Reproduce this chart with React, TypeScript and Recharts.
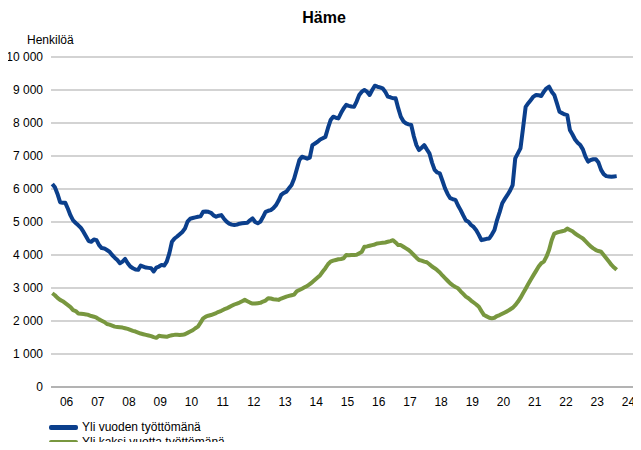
import { LineChart, Line, XAxis, YAxis, CartesianGrid } from 'recharts';

// monthly figures, Jan 2006 -> Feb 2024
const startYear = 2006;

const yliVuoden = [
  6150, 6050, 5850, 5600, 5580, 5580, 5400, 5200, 5050, 4970, 4900, 4820,
  4700, 4560, 4420, 4400, 4470, 4450, 4300, 4210, 4200, 4150, 4100, 4000,
  3920, 3850, 3750, 3800, 3880, 3750, 3650, 3600, 3560, 3550, 3680, 3650,
  3620, 3610, 3600, 3500, 3620, 3650, 3700, 3680, 3800, 4050, 4400, 4500,
  4560, 4630, 4700, 4800, 5010, 5100, 5120, 5140, 5160, 5170, 5310, 5320,
  5310, 5280, 5200, 5160, 5190, 5210, 5100, 5010, 4950, 4920, 4910, 4920,
  4950, 4960, 4970, 4980, 5050, 5110, 5000, 4960, 5010, 5150, 5310, 5340,
  5360, 5420, 5510, 5650, 5820, 5880, 5920, 6020, 6120, 6320, 6600, 6880,
  6980, 6950, 6920, 6950, 7330, 7380, 7430, 7500, 7540, 7580, 7850, 8090,
  8190, 8160, 8140, 8300, 8440, 8550, 8520, 8500, 8490, 8650, 8850, 8950,
  9000, 8950, 8850, 9000, 9130, 9100, 9080, 9050, 8950, 8800, 8780, 8750,
  8750, 8450, 8190, 8050, 7990, 7960, 7940, 7600, 7330, 7180, 7250, 7330,
  7200, 7080, 6800, 6580, 6500, 6470, 6250, 6020, 5850, 5720, 5690, 5670,
  5500, 5360, 5200, 5050, 5010, 4910, 4850, 4750, 4610, 4450, 4470, 4490,
  4500, 4620, 4760, 5060, 5300, 5570, 5700, 5820, 5950, 6120, 6930, 7080,
  7230, 7850, 8490, 8600, 8700, 8800, 8850, 8840, 8820, 8950, 9050, 9100,
  8950, 8850, 8600, 8340, 8300, 8260, 8240, 7790, 7650, 7500, 7400, 7330,
  7200, 6980, 6830, 6880, 6900, 6900, 6800, 6580, 6450, 6390, 6380, 6370,
  6380, 6390,
];

const yliKaksi = [
  2840, 2780, 2700, 2640, 2600, 2540, 2480, 2420, 2330, 2300, 2230, 2220,
  2210, 2200, 2180, 2150, 2130, 2100, 2050, 2010, 1970, 1910, 1890, 1860,
  1830, 1820, 1810, 1800, 1780, 1760, 1730, 1700, 1680, 1650, 1620, 1600,
  1580, 1560, 1540, 1510, 1490, 1550, 1540, 1530, 1520, 1550, 1570, 1580,
  1580, 1575, 1580, 1600, 1640, 1680, 1720, 1780, 1830, 1950, 2080, 2130,
  2160, 2180, 2210, 2240, 2280, 2310, 2350, 2380, 2420, 2460, 2500, 2530,
  2560, 2600, 2640, 2600, 2560, 2530, 2530, 2540, 2550, 2590, 2620, 2690,
  2680, 2660, 2650, 2640, 2680, 2710, 2740, 2760, 2780, 2800, 2900, 2940,
  2980, 3020, 3060, 3120, 3180, 3250, 3320, 3390, 3500, 3600, 3720, 3800,
  3830, 3850, 3870, 3880, 3900, 4000, 3990, 4000, 4000, 4010, 4050, 4100,
  4250, 4260, 4280, 4300, 4320, 4350, 4360, 4370, 4380, 4400, 4420, 4450,
  4380, 4300, 4300, 4250, 4200, 4150, 4080, 4000, 3920, 3850, 3830, 3800,
  3780, 3720, 3650, 3600, 3540, 3470, 3380, 3300, 3220, 3140, 3080, 3030,
  2990, 2900, 2820, 2740, 2690, 2620, 2560, 2500, 2430, 2300, 2180, 2140,
  2100, 2080, 2100, 2150, 2180, 2220, 2260, 2300, 2350, 2400, 2480, 2580,
  2700, 2840, 2980, 3120, 3260, 3390, 3520, 3650, 3750, 3800, 3950, 4150,
  4450, 4650, 4680, 4700, 4720, 4740, 4800, 4760, 4720, 4650, 4600, 4550,
  4500, 4420, 4340, 4260, 4200, 4150, 4120, 4100, 4000, 3900, 3800, 3700,
  3620, 3550,
];

const yearTicks = [
  2006.5, 2007.5, 2008.5, 2009.5, 2010.5, 2011.5, 2012.5, 2013.5, 2014.5, 2015.5,
  2016.5, 2017.5, 2018.5, 2019.5, 2020.5, 2021.5, 2022.5, 2023.5, 2024.5,
];
const valueTicks = [0, 1000, 2000, 3000, 4000, 5000, 6000, 7000, 8000, 9000, 10000];

const BLUE = '#0b3f8c';
const GREEN = '#78973f';
const font = '"Liberation Sans", Arial, sans-serif';

const rows = yliVuoden.map((v, i) => ({
  t: startYear + (i + 0.5) / 12,
  vuosi: v,
  kaksi: yliKaksi[i],
}));

const fmt = (v: number) => (v >= 1000 ? `${Math.floor(v / 1000)} ${String(v % 1000).padStart(3, '0')}` : String(v));

export default function App() {
  return (
    <div style={{ position: 'relative', width: 641, height: 450, overflow: 'hidden', margin: -8, fontFamily: font }}>
      <LineChart width={650} height={450} data={rows} margin={{ top: 57, right: 6, left: 0, bottom: 33 }}>
        <text x={324} y={23} textAnchor="middle" fontSize={16} fontWeight="bold" fill="#000" fontFamily={font}>
          Häme
        </text>
        <text x={27} y={44} fontSize={12} fill="#000" fontFamily={font}>
          Henkilöä
        </text>
        <CartesianGrid vertical={false} stroke="#c4c4c4" strokeWidth={1.5} />
        <XAxis
          dataKey="t"
          type="number"
          domain={[2006, 2025]}
          ticks={yearTicks}
          tickFormatter={(t: number) => String(Math.floor(t)).slice(2)}
          tickLine={false}
          stroke="#a8a8a8"
          strokeWidth={1.5}
          tickMargin={4}
          tick={{ fill: '#000', fontSize: 12, fontFamily: font }}
          interval={0}
        />
        <YAxis
          width={51}
          domain={[0, 10000]}
          ticks={valueTicks}
          tickFormatter={fmt}
          axisLine={false}
          tickLine={false}
          tick={{ fill: '#000', fontSize: 12, fontFamily: font }}
          interval={0}
        />
        <Line dataKey="vuosi" stroke={BLUE} strokeWidth={4} dot={false} isAnimationActive={false} strokeLinejoin="round" />
        <Line dataKey="kaksi" stroke={GREEN} strokeWidth={4} dot={false} isAnimationActive={false} strokeLinejoin="round" />
      </LineChart>
      <div style={{ position: 'absolute', left: 49, top: 420, fontSize: 12, lineHeight: '15px', color: '#000' }}>
        {[
          { name: 'Yli vuoden työttömänä', color: BLUE },
          { name: 'Yli kaksi vuotta työttömänä', color: GREEN },
        ].map((s) => (
          <div key={s.name} style={{ display: 'flex', alignItems: 'center', height: 15 }}>
            <span style={{ display: 'inline-block', width: 29, height: 5, borderRadius: 2, background: s.color, marginRight: 4 }} />
            <span>{s.name}</span>
          </div>
        ))}
      </div>
    </div>
  );
}
